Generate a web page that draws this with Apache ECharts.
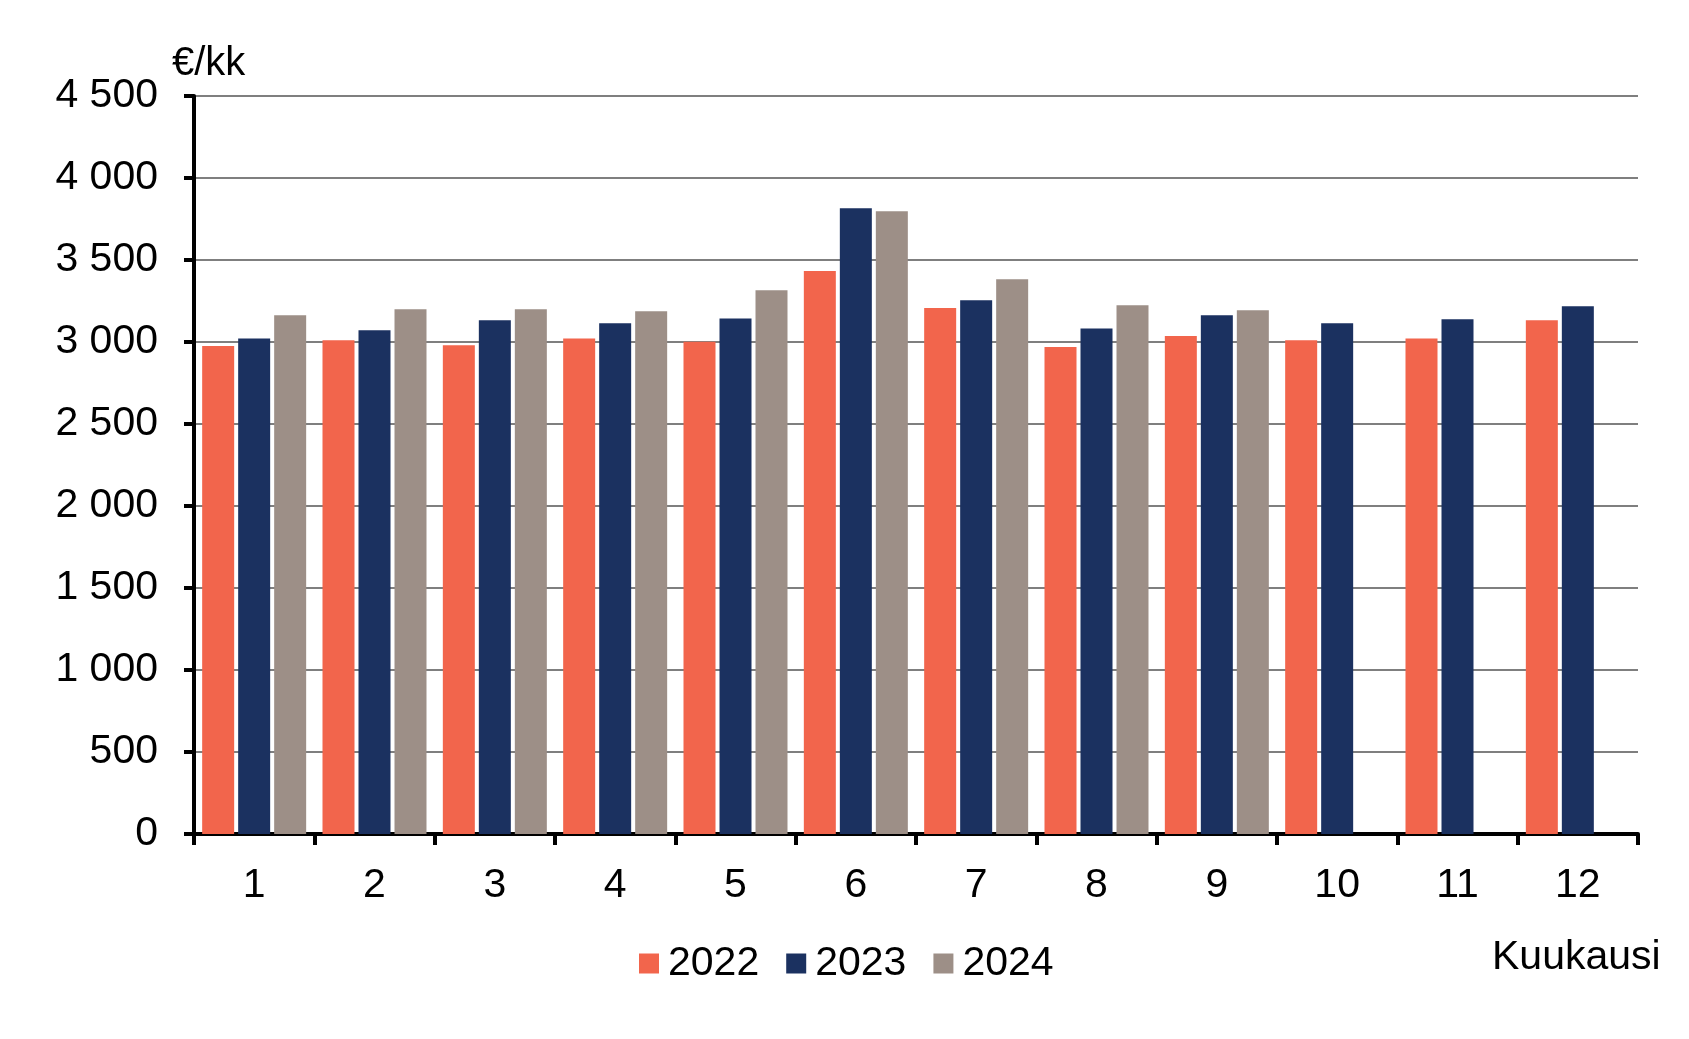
<!DOCTYPE html>
<html>
<head>
<meta charset="utf-8">
<script src="https://cdn.jsdelivr.net/npm/echarts@6/dist/echarts.min.js"></script>
<style>
html,body{margin:0;padding:0;background:#fff;}
#chart{width:1689px;height:1039px;}
</style>
</head>
<body>
<div id="chart"></div>
<script>
const months = ['1','2','3','4','5','6','7','8','9','10','11','12'];
const years = ['2022','2023','2024'];
const v2022 = [2975, 3010, 2980, 3022, 3002, 3433, 3207, 2970, 3037, 3010, 3022, 3132];
const v2023 = [3022, 3071, 3132, 3114, 3144, 3815, 3254, 3083, 3163, 3114, 3138, 3218];
const v2024 = [3163, 3199, 3199, 3187, 3315, 3797, 3382, 3224, 3193, null, null, null];
const colors = ['#F2654C', '#1B3160', '#9D8F87'];
const yTicks = [0, 500, 1000, 1500, 2000, 2500, 3000, 3500, 4000, 4500];

const FONT = '"Liberation Sans", Arial, sans-serif';
function fmt(v){
  if (v >= 1000) return Math.floor(v/1000) + ' ' + String(v % 1000).padStart(3, '0');
  return String(v);
}
const chart = echarts.init(document.getElementById('chart'));
const seriesData = [v2022, v2023, v2024];
chart.setOption({
  animation: false,
  textStyle: {fontFamily: FONT},
  grid: {left: 194, right: 51, top: 96, bottom: 205, containLabel: false},
  legend: {
    data: years,
    left: 634, top: 938,
    itemWidth: 20, itemHeight: 20, itemGap: 27,
    icon: 'rect',
    textStyle: {fontSize: 41, fontFamily: FONT, color: '#000', padding: [0,0,0,4]}
  },
  xAxis: {
    type: 'category',
    data: months,
    axisLine: {lineStyle: {color: '#000', width: 4}},
    axisTick: {show: true, length: 11, lineStyle: {color: '#000', width: 4}},
    axisLabel: {fontSize: 41, color: '#000', fontFamily: FONT, margin: 31},
    splitLine: {show: false}
  },
  yAxis: {
    type: 'value',
    min: 0, max: 4500, interval: 500,
    axisLine: {show: true, lineStyle: {color: '#000', width: 4}},
    axisTick: {show: true, length: 10, lineStyle: {color: '#000', width: 4}},
    axisLabel: {fontSize: 41, color: '#000', fontFamily: FONT, margin: 36,
      formatter: v => yTicks.includes(v) ? fmt(v) : ''},
    splitLine: {show: true, lineStyle: {color: '#7f7f7f', width: 2}}
  },
  graphic: [
    {type: 'text', left: 172, top: 44, style: {text: '€/kk', font: '40px ' + FONT, fill: '#000'}},
    {type: 'text', left: 1492, top: 937, style: {text: 'Kuukausi', font: '41px ' + FONT, fill: '#000'}}
  ],
  series: years.map((y, i) => ({
    name: y,
    type: 'bar',
    data: seriesData[i],
    barWidth: 32,
    barGap: '12.5%',
    itemStyle: {color: colors[i]}
  }))
});
</script>
</body>
</html>
